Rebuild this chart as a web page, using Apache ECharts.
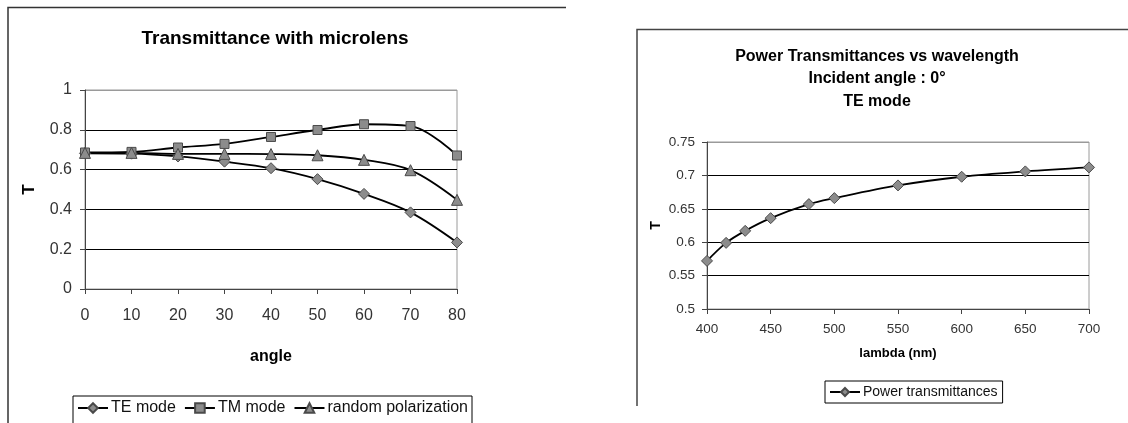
<!DOCTYPE html>
<html>
<head>
<meta charset="utf-8">
<script src="https://cdn.jsdelivr.net/npm/echarts@6/dist/echarts.min.js"></script>
<style>
html,body{margin:0;padding:0;background:#fff;}
#main{width:1128px;height:423px;}
</style>
</head>
<body>
<div id="main"></div>
<script>
// ---- Data: left chart (Transmittance with microlens) ----
var angles = [0, 10, 20, 30, 40, 50, 60, 70, 80];
var teMode = [0.682, 0.680, 0.666, 0.640, 0.607, 0.552, 0.478, 0.385, 0.234];
var tmMode = [0.686, 0.689, 0.711, 0.729, 0.764, 0.799, 0.828, 0.819, 0.671];
var randomPol = [0.684, 0.684, 0.679, 0.679, 0.678, 0.672, 0.649, 0.597, 0.448];
var leftYTicks = [0, 0.2, 0.4, 0.6, 0.8, 1];

// ---- Data: right chart (Power Transmittances vs wavelength) ----
var wavelengths = [400, 415, 430, 450, 480, 500, 550, 600, 650, 700];
var powerT = [0.572, 0.599, 0.617, 0.636, 0.657, 0.666, 0.685, 0.698, 0.706, 0.712];
var rightYTicks = [0.5, 0.55, 0.6, 0.65, 0.7, 0.75];

function pairs(xs, ys) { return xs.map(function (x, i) { return [x, ys[i]]; }); }

var FONT = 'Liberation Sans, Arial, sans-serif';
var markerStyle = { color: '#8c8c8c', borderColor: '#4a4a4a', borderWidth: 1 };
var lineStyle = { color: '#000', width: 1.8 };
var gridLineColors = ['#000', '#000', '#000', '#000', '#000', '#9a9a9a'];

var chart = echarts.init(document.getElementById('main'), null, { renderer: 'canvas' });

var option = {
  backgroundColor: '#fff',
  animation: false,
  textStyle: { fontFamily: FONT },
  title: [
    {
      text: 'Transmittance with microlens',
      left: 270, top: 23, textAlign: 'center',
      textStyle: { fontFamily: FONT, fontSize: 19, fontWeight: 'bold', color: '#000', lineHeight: 22 }
    },
    {
      text: 'Power Transmittances vs wavelength\nIncident angle : 0°\nTE mode',
      left: 872, top: 40, textAlign: 'center',
      textStyle: { fontFamily: FONT, fontSize: 16, fontWeight: 'bold', color: '#000', lineHeight: 22.5 }
    }
  ],
  legend: [
    {
      data: ['TE mode', 'TM mode', 'random polarization'],
      left: 73, top: 396,
      orient: 'horizontal',
      itemWidth: 30, itemHeight: 12, itemGap: 8,
      padding: [4, 4, 8, 4],
      borderColor: '#000', borderWidth: 1,
      textStyle: { fontFamily: FONT, fontSize: 16, color: '#111', padding: [0, 0, 0, -2] }
    },
    {
      data: ['Power transmittances'],
      left: 825, top: 381,
      itemWidth: 30, itemHeight: 10, itemGap: 8,
      padding: [4, 5, 4, 4],
      borderColor: '#000', borderWidth: 1,
      textStyle: { fontFamily: FONT, fontSize: 14, color: '#111', padding: [0, 0, 0, -2] }
    }
  ],
  grid: [
    { left: 85, top: 90, width: 372, height: 199, show: true, borderColor: '#9a9a9a', borderWidth: 1, backgroundColor: 'transparent' },
    { left: 707, top: 142, width: 382, height: 167, show: true, borderColor: '#9a9a9a', borderWidth: 1, backgroundColor: 'transparent' }
  ],
  xAxis: [
    {
      gridIndex: 0, type: 'value', min: angles[0], max: angles[angles.length - 1], interval: 10,
      name: 'angle', nameLocation: 'middle', nameGap: 60,
      nameTextStyle: { fontFamily: FONT, fontSize: 16, fontWeight: 'bold', color: '#000' },
      axisLine: { lineStyle: { color: '#444', width: 1 } },
      axisTick: { show: true, length: 5, lineStyle: { color: '#444' } },
      axisLabel: { margin: 19, fontFamily: FONT, fontSize: 16, color: '#333' },
      splitLine: { show: false }
    },
    {
      gridIndex: 1, type: 'value', min: 400, max: 700, interval: 50,
      name: 'lambda (nm)', nameLocation: 'middle', nameGap: 38,
      nameTextStyle: { fontFamily: FONT, fontSize: 13, fontWeight: 'bold', color: '#000' },
      axisLine: { lineStyle: { color: '#444', width: 1 } },
      axisTick: { show: true, length: 5, lineStyle: { color: '#444' } },
      axisLabel: { margin: 13, fontFamily: FONT, fontSize: 13.5, color: '#333' },
      splitLine: { show: false }
    }
  ],
  yAxis: [
    {
      gridIndex: 0, type: 'value', min: leftYTicks[0], max: leftYTicks[leftYTicks.length - 1], interval: 0.2,
      name: 'T', nameLocation: 'middle', nameGap: 47,
      nameTextStyle: { fontFamily: FONT, fontSize: 17, fontWeight: 'bold', color: '#000' },
      axisLine: { show: true, lineStyle: { color: '#444', width: 1 } },
      axisTick: { show: true, length: 5, lineStyle: { color: '#444' } },
      axisLabel: { margin: 13, fontFamily: FONT, fontSize: 16, color: '#333',
        formatter: function (v) { return String(+v.toFixed(1)); } },
      splitLine: { show: true, lineStyle: { color: gridLineColors, width: 1 } }
    },
    {
      gridIndex: 1, type: 'value', min: rightYTicks[0], max: rightYTicks[rightYTicks.length - 1], interval: 0.05,
      name: 'T', nameLocation: 'middle', nameGap: 44,
      nameTextStyle: { fontFamily: FONT, fontSize: 14, fontWeight: 'bold', color: '#000' },
      axisLine: { show: true, lineStyle: { color: '#444', width: 1 } },
      axisTick: { show: true, length: 5, lineStyle: { color: '#444' } },
      axisLabel: { margin: 12, fontFamily: FONT, fontSize: 13.5, color: '#333',
        formatter: function (v) { return String(+v.toFixed(2)); } },
      splitLine: { show: true, lineStyle: { color: gridLineColors, width: 1 } }
    }
  ],
  series: [
    {
      name: 'TE mode', type: 'line', xAxisIndex: 0, yAxisIndex: 0,
      data: pairs(angles, teMode), smooth: 0.35,
      symbol: 'diamond', symbolSize: 11,
      lineStyle: lineStyle, itemStyle: markerStyle
    },
    {
      name: 'TM mode', type: 'line', xAxisIndex: 0, yAxisIndex: 0,
      data: pairs(angles, tmMode), smooth: 0.35,
      symbol: 'rect', symbolSize: 9,
      lineStyle: lineStyle, itemStyle: markerStyle
    },
    {
      name: 'random polarization', type: 'line', xAxisIndex: 0, yAxisIndex: 0,
      data: pairs(angles, randomPol), smooth: 0.35,
      symbol: 'triangle', symbolSize: 11,
      lineStyle: lineStyle, itemStyle: markerStyle
    },
    {
      name: 'Power transmittances', type: 'line', xAxisIndex: 1, yAxisIndex: 1,
      data: pairs(wavelengths, powerT), smooth: 0.35,
      symbol: 'diamond', symbolSize: 11,
      lineStyle: lineStyle, itemStyle: markerStyle
    }
  ],
  graphic: [
    { type: 'polyline', silent: true, z: 0,
      shape: { points: [[8, 430], [8, 7.5], [566, 7.5]] },
      style: { fill: null, stroke: '#333', lineWidth: 1.5 } },
    { type: 'polyline', silent: true, z: 0,
      shape: { points: [[637, 406], [637, 29.5], [1130, 29.5]] },
      style: { fill: null, stroke: '#444', lineWidth: 1.5 } }
  ]
};

chart.setOption(option);
</script>
</body>
</html>
